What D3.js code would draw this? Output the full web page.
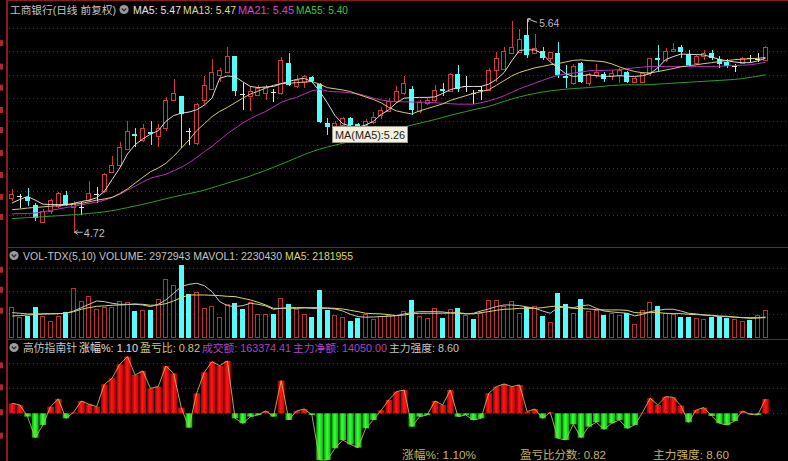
<!DOCTYPE html>
<html><head><meta charset="utf-8">
<script src="https://cdn.jsdelivr.net/npm/d3@7"></script>
<style>html,body{margin:0;padding:0;background:#000;overflow:hidden}text{font-family:"Liberation Sans","Noto Sans CJK SC",sans-serif}</style>
</head><body>
<svg id="c" width="788" height="461" style="display:block;background:#000"></svg>
<script>
// ---------- DATA ----------
const opens  = [4.87,4.88,4.874,4.843,4.77,4.814,4.836,4.883,4.831,4.833,4.864,4.887,4.90,4.983,5.014,5.083,5.146,5.12,5.154,5.136,5.17,5.293,5.31,5.157,5.107,5.293,5.34,5.40,5.411,5.48,5.319,5.307,5.314,5.321,5.326,5.321,5.45,5.35,5.371,5.389,5.361,5.193,5.171,5.186,5.214,5.19,5.186,5.197,5.229,5.243,5.289,5.321,5.34,5.243,5.279,5.29,5.34,5.331,5.403,5.35,5.321,5.336,5.336,5.421,5.426,5.493,5.497,5.571,5.493,5.503,5.471,5.493,5.393,5.364,5.45,5.364,5.40,5.403,5.393,5.40,5.411,5.367,5.369,5.407,5.474,5.464,5.50,5.521,5.489,5.45,5.479,5.493,5.467,5.453,5.436,5.45,5.471,5.467,5.464];
const highs  = [4.91,4.89,4.914,4.85,4.825,4.866,4.895,4.903,4.86,4.854,4.943,4.92,4.977,5.05,5.11,5.20,5.17,5.19,5.20,5.19,5.303,5.38,5.31,5.17,5.279,5.396,5.469,5.429,5.519,5.48,5.364,5.35,5.357,5.357,5.34,5.476,5.493,5.40,5.40,5.393,5.364,5.214,5.20,5.22,5.22,5.195,5.21,5.24,5.26,5.30,5.35,5.393,5.354,5.293,5.30,5.357,5.364,5.407,5.443,5.393,5.336,5.35,5.431,5.497,5.519,5.629,5.597,5.64,5.576,5.519,5.50,5.54,5.443,5.446,5.457,5.407,5.446,5.414,5.421,5.429,5.417,5.39,5.41,5.474,5.529,5.514,5.536,5.526,5.507,5.486,5.507,5.507,5.479,5.467,5.446,5.475,5.483,5.493,5.524];
const lows   = [4.86,4.83,4.836,4.774,4.765,4.804,4.83,4.836,4.72,4.80,4.857,4.85,4.893,4.98,5.007,5.08,5.09,5.113,5.10,5.09,5.16,5.286,5.086,5.10,5.10,5.271,5.336,5.371,5.407,5.307,5.25,5.243,5.307,5.293,5.283,5.314,5.35,5.343,5.343,5.364,5.193,5.143,5.15,5.18,5.175,5.16,5.17,5.19,5.21,5.24,5.28,5.314,5.229,5.236,5.27,5.283,5.307,5.329,5.326,5.326,5.274,5.293,5.331,5.371,5.421,5.489,5.493,5.471,5.489,5.464,5.46,5.386,5.343,5.357,5.364,5.354,5.386,5.371,5.379,5.364,5.364,5.365,5.365,5.393,5.414,5.457,5.497,5.471,5.44,5.443,5.464,5.464,5.429,5.429,5.414,5.447,5.454,5.457,5.461];
const closes = [4.89,4.88,4.857,4.786,4.815,4.864,4.893,4.843,4.85,4.833,4.893,4.887,4.974,5.014,5.09,5.16,5.136,5.17,5.146,5.17,5.293,5.32,5.23,5.157,5.274,5.357,5.411,5.421,5.479,5.329,5.319,5.331,5.343,5.346,5.326,5.464,5.357,5.379,5.393,5.374,5.197,5.174,5.193,5.214,5.186,5.175,5.203,5.221,5.25,5.289,5.331,5.364,5.25,5.283,5.293,5.336,5.331,5.403,5.34,5.35,5.321,5.336,5.421,5.471,5.50,5.521,5.554,5.486,5.514,5.471,5.497,5.40,5.386,5.436,5.371,5.403,5.414,5.383,5.407,5.421,5.371,5.386,5.407,5.471,5.464,5.50,5.511,5.497,5.443,5.479,5.493,5.471,5.446,5.436,5.436,5.471,5.471,5.467,5.521];

const ma5  = [4.85,4.865,4.878,4.862,4.845,4.843,4.843,4.843,4.848,4.856,4.862,4.872,4.9,4.95,5.0,5.06,5.1,5.125,5.145,5.16,5.2,5.225,5.235,5.24,5.25,5.27,5.3,5.385,5.395,5.392,5.37,5.35,5.345,5.348,5.35,5.362,5.372,5.38,5.385,5.37,5.33,5.28,5.225,5.19,5.18,5.175,5.185,5.2,5.23,5.25,5.28,5.3,5.302,5.303,5.303,5.305,5.32,5.336,5.345,5.35,5.35,5.35,5.36,5.38,5.41,5.46,5.505,5.507,5.507,5.49,5.455,5.43,5.405,5.393,5.396,5.4,5.396,5.393,5.394,5.396,5.394,5.393,5.396,5.405,5.43,5.465,5.478,5.489,5.488,5.487,5.485,5.476,5.466,5.46,5.455,5.452,5.452,5.46,5.471];
const ma13 = [4.821,4.824,4.828,4.831,4.833,4.836,4.838,4.841,4.844,4.848,4.855,4.862,4.867,4.874,4.89,4.91,4.935,4.96,4.984,5.0,5.02,5.05,5.085,5.12,5.16,5.19,5.22,5.243,5.26,5.28,5.3,5.317,5.33,5.343,5.355,5.362,5.364,5.366,5.369,5.371,5.36,5.345,5.34,5.335,5.328,5.316,5.305,5.294,5.28,5.26,5.245,5.238,5.232,5.245,5.255,5.265,5.275,5.29,5.3,5.31,5.32,5.328,5.336,5.355,5.375,5.395,5.41,5.42,5.43,5.436,5.443,5.448,5.455,5.462,5.464,5.461,5.459,5.456,5.447,5.434,5.423,5.414,5.409,5.408,5.414,5.42,5.427,5.434,5.439,5.443,5.448,5.452,5.457,5.461,5.465,5.467,5.469,5.471,5.474];
const ma21 = [4.803,4.804,4.805,4.807,4.812,4.818,4.824,4.83,4.836,4.842,4.848,4.854,4.862,4.873,4.887,4.905,4.922,4.94,4.956,4.965,4.973,4.988,5.003,5.022,5.045,5.07,5.093,5.12,5.147,5.17,5.193,5.212,5.228,5.243,5.262,5.282,5.294,5.303,5.318,5.331,5.338,5.33,5.327,5.326,5.322,5.318,5.31,5.3,5.292,5.287,5.285,5.284,5.283,5.283,5.282,5.28,5.278,5.276,5.274,5.274,5.274,5.28,5.288,5.298,5.31,5.325,5.34,5.352,5.364,5.376,5.388,5.398,5.403,5.407,5.412,5.417,5.418,5.419,5.42,5.422,5.426,5.43,5.433,5.436,5.436,5.436,5.436,5.436,5.436,5.436,5.436,5.436,5.437,5.438,5.44,5.441,5.443,5.448,5.454];
const ma55 = [4.783,4.785,4.787,4.789,4.791,4.793,4.795,4.797,4.8,4.802,4.805,4.808,4.812,4.817,4.823,4.83,4.837,4.844,4.852,4.86,4.868,4.876,4.883,4.89,4.897,4.905,4.915,4.925,4.935,4.945,4.955,4.966,4.978,4.99,5.003,5.016,5.03,5.044,5.058,5.07,5.081,5.09,5.098,5.106,5.115,5.124,5.134,5.143,5.152,5.16,5.168,5.176,5.184,5.192,5.2,5.208,5.217,5.226,5.234,5.242,5.25,5.257,5.264,5.275,5.286,5.296,5.305,5.313,5.32,5.326,5.331,5.335,5.338,5.341,5.343,5.345,5.348,5.351,5.354,5.356,5.357,5.357,5.357,5.358,5.36,5.362,5.364,5.366,5.368,5.37,5.372,5.374,5.376,5.378,5.38,5.384,5.389,5.394,5.4];

// volume in millions of shares; 1 = red (up) bar, 0 = cyan (down) bar
const volumes = [3.26,2.28,2.38,3.33,2.38,1.82,2.35,2.80,5.25,3.92,4.45,3.08,3.33,3.33,3.92,3.78,2.91,2.98,2.98,4.10,6.20,5.60,7.70,4.62,4.83,3.15,3.43,2.28,3.57,3.68,3.05,3.78,2.52,2.52,2.56,4.27,3.57,3.05,2.52,2.28,5.08,2.98,2.45,2.28,1.86,2.10,2.56,2.03,2.35,2.45,2.40,2.91,4.03,2.38,2.10,3.22,2.17,3.08,3.22,2.45,2.03,2.63,4.03,4.03,3.40,3.92,2.63,3.29,3.40,2.35,1.75,4.73,3.57,2.70,4.13,2.87,2.98,2.45,2.70,2.45,2.63,1.47,2.98,3.85,3.40,2.63,2.52,2.28,2.28,2.17,2.03,2.28,2.28,2.17,2.03,1.82,1.93,2.45,2.97];
const volUp = [1,1,0,0,1,1,1,0,1,1,1,1,1,1,1,1,0,1,0,1,1,1,0,0,1,1,1,1,1,0,0,1,1,1,0,1,0,1,1,0,0,0,1,1,0,0,1,1,1,1,1,1,0,1,1,1,0,1,0,1,0,1,1,1,1,1,1,0,1,0,1,0,0,1,0,1,1,0,1,1,0,1,1,1,0,1,1,0,0,1,1,0,0,0,1,1,0,1,1];
const mavol1 = [2.70,2.63,2.56,2.56,2.56,2.59,2.59,2.63,2.87,3.22,3.57,3.92,3.85,3.68,3.57,3.57,3.57,3.50,3.33,3.57,4.03,4.73,5.43,5.67,5.78,5.53,4.90,3.85,3.43,3.33,3.43,3.68,3.57,3.40,3.05,3.15,3.22,3.22,3.22,3.15,3.15,3.15,3.08,2.87,2.52,2.28,2.21,2.24,2.28,2.31,2.38,2.56,2.70,2.80,2.80,2.80,2.77,2.66,2.63,2.56,2.63,2.87,3.08,3.33,3.50,3.50,3.43,3.29,3.15,2.87,2.63,3.22,3.29,3.22,3.40,3.50,3.15,2.87,2.77,2.70,2.63,2.35,2.52,2.80,2.94,3.05,3.05,2.87,2.63,2.56,2.45,2.38,2.28,2.28,2.21,2.17,2.17,2.17,2.23];
const mavol2 = [2.35,2.38,2.45,2.49,2.56,2.56,2.59,2.63,2.80,3.05,3.22,3.36,3.40,3.47,3.50,3.54,3.61,3.57,3.47,3.50,3.64,3.92,4.27,4.55,4.55,4.55,4.52,4.48,4.41,4.38,4.20,4.03,3.78,3.50,3.15,3.15,3.15,3.15,3.19,3.22,3.22,3.19,3.15,3.08,2.94,2.80,2.63,2.59,2.56,2.49,2.38,2.45,2.56,2.63,2.63,2.63,2.63,2.66,2.70,2.59,2.56,2.70,2.80,2.94,3.05,3.08,3.15,3.15,3.15,3.22,3.33,3.40,3.26,3.15,3.12,3.08,3.01,2.98,2.98,2.98,2.94,2.70,2.66,2.70,2.70,2.63,2.59,2.59,2.52,2.49,2.45,2.42,2.35,2.31,2.24,2.17,2.10,2.13,2.18];

// 高仿指南针 histogram values
const zhinan = [30,25,-10,-73,-35,20,43,-15,3,37,27,20,87,105,147,170,115,127,75,80,142,120,17,-43,60,123,155,143,157,-15,-30,-10,-5,7,-10,98,-20,7,13,-5,-140,-140,-105,-80,-93,-103,-45,-20,9,40,65,70,-40,-10,-5,37,25,70,-10,-5,-20,-15,60,80,88,80,85,5,13,-15,3,-75,-80,-33,-73,-40,-27,-48,-30,-20,-45,-35,2,45,25,50,48,23,-27,10,17,-8,-30,-35,-23,7,-3,-5,43];

const priceTicks = [4.8,4.9,5.0,5.1,5.2,5.3,5.4,5.5,5.6];
const priceMarks = [5.536,5.435,5.345,5.249,5.163,5.064,4.97,4.876,4.79];
const volTicks = [2.55,5.0,7.4];
const volMarks = [7.2,5.1,2.9];
const indTicks = [75,150];
const indMarks = [144,78,3,-67];

const mainHeader = ["工商银行(日线 前复权)","MA5: 5.47","MA13: 5.47","MA21: 5.45","MA55: 5.40"];
const volHeader = ["VOL-TDX(5,10) VOLUME: 2972943 MAVOL1: 2230430","MA5: 2181955"];
const indHeader = ["高仿指南针","涨幅%: 1.10","盈亏比: 0.82","成交额: 163374.41","主力净额: 14050.00","主力强度: 8.60"];
const indFooter = ["涨幅%:  1.10%","盈亏比分数:  0.82","主力强度:  8.60"];
const tooltipText = "MA(MA5):5.26";
const lowLabel = {i:8, v:4.72, t:"4.72"};
const highLabel = {i:67, v:5.64, t:"5.64"};

// ---------- LAYOUT / STYLE ----------
const mainHeaderStyle = [{x:10,w:106,c:"#c4c4c4"},{x:133,w:48,c:"#e6e6e6"},{x:183,w:53,c:"#e4dc82"},{x:238,w:56,c:"#d844d8"},{x:296,w:52,c:"#3cc83c"}];
const volHeaderStyle = [{x:23,w:259,c:"#c4c4c4"},{x:285,w:68,c:"#dcdc5a"}];
const indHeaderStyle = [{x:23,w:54,c:"#c4c4c4"},{x:79,w:59,c:"#e0e0e0"},{x:140,w:60,c:"#d2c878"},{x:202,w:89,c:"#b044c8"},{x:293,w:94,c:"#b044c8"},{x:389,w:70,c:"#c4c4c4"}];
const indFooterStyle = [{x:402,w:74},{x:520,w:86},{x:653,w:76}];

// ---------- DRAW ----------
const W = 788, H = 461;
const svg = d3.select("#c");
const idx = d3.range(closes.length);
const x = d3.scaleBand().domain(idx).range([7.15, 770.45]).padding(0.3);
const cx = i => x(i) + x.bandwidth()/2;
const bw = x.bandwidth();

const y = d3.scaleLinear().domain([4.8, 5.6]).range([214.6, 28.2]);
const yv = d3.scaleLinear().domain([0, 7.7]).range([338.3, 265]);
const yi = d3.scaleLinear().domain([0, 150]).range([413.3, 363.3]);

const RED = "#d03a3a", CYAN = "#54fcfc", FRAME = "#8a1c1c", GRID = "#7a1a1a";

const defs = svg.append("defs");
function grad(id, a, b, c){
  const g = defs.append("linearGradient").attr("id", id).attr("x1",0).attr("x2",1).attr("y1",0).attr("y2",0);
  g.append("stop").attr("offset","0%").attr("stop-color",a);
  g.append("stop").attr("offset","45%").attr("stop-color",b);
  g.append("stop").attr("offset","100%").attr("stop-color",c);
}
grad("gRed","#9a0000","#ff1818","#c80000");
grad("gGreen","#00a800","#3cff3c","#00c000");

// grids
const gridG = svg.append("g").attr("stroke", GRID).attr("stroke-dasharray","1,3").attr("shape-rendering","crispEdges");
priceTicks.forEach(p => gridG.append("line").attr("x1",9).attr("x2",W).attr("y1",Math.round(y(p))+0.5).attr("y2",Math.round(y(p))+0.5));
volTicks.forEach(v => gridG.append("line").attr("x1",9).attr("x2",W).attr("y1",Math.round(yv(v))+0.5).attr("y2",Math.round(yv(v))+0.5));
indTicks.concat([0]).forEach(v => gridG.append("line").attr("x1",9).attr("x2",W).attr("y1",Math.round(yi(v))+0.5).attr("y2",Math.round(yi(v))+0.5));

// frame
const fr = svg.append("g").attr("stroke", FRAME).attr("stroke-width",1.5).attr("shape-rendering","crispEdges");
fr.append("line").attr("x1",7).attr("x2",7).attr("y1",0).attr("y2",H);
fr.append("line").attr("x1",7).attr("x2",W).attr("y1",0.5).attr("y2",0.5);
fr.append("line").attr("x1",7).attr("x2",W).attr("y1",247.5).attr("y2",247.5);
fr.append("line").attr("x1",7).attr("x2",W).attr("y1",339.5).attr("y2",339.5);

// left marks (clipped axis labels)
const mk = svg.append("g").attr("fill","#b02828");
priceMarks.forEach(p => mk.append("rect").attr("x",0).attr("y",y(p)-3).attr("width",3).attr("height",6));
volMarks.forEach(v => mk.append("rect").attr("x",0).attr("y",yv(v)-3).attr("width",3).attr("height",6));
indMarks.forEach(v => mk.append("rect").attr("x",0).attr("y",yi(v)-3).attr("width",3).attr("height",6));

// ---- candles
const cg = svg.append("g").attr("shape-rendering","crispEdges");
idx.forEach(i => {
  const o = opens[i], c = closes[i], h = highs[i], l = lows[i];
  const xc = Math.round(cx(i)) + 0.5;
  const x0 = Math.round(cx(i) - bw/2) + 0.5;
  const w = Math.round(bw) - 1;
  if (c > o) {
    const top = Math.round(y(c)) + 0.5, bot = Math.round(y(o)) + 0.5;
    cg.append("line").attr("x1",xc).attr("x2",xc).attr("y1",y(h)).attr("y2",top).attr("stroke",RED);
    cg.append("line").attr("x1",xc).attr("x2",xc).attr("y1",bot).attr("y2",y(l)).attr("stroke",RED);
    cg.append("rect").attr("x",x0).attr("y",top).attr("width",w).attr("height",Math.max(1,bot-top)).attr("fill","#000").attr("stroke",RED);
  } else if (c < o) {
    cg.append("line").attr("x1",xc).attr("x2",xc).attr("y1",y(h)).attr("y2",y(l)).attr("stroke",CYAN);
    const top = y(o), bot = y(c);
    cg.append("rect").attr("x",x0-0.5).attr("y",top).attr("width",w+1).attr("height",Math.max(1.5,bot-top)).attr("fill",CYAN);
  } else {
    cg.append("line").attr("x1",xc).attr("x2",xc).attr("y1",y(h)).attr("y2",y(l)).attr("stroke","#e8e8e8");
    cg.append("line").attr("x1",x0-0.5).attr("x2",x0+w+0.5).attr("y1",Math.round(y(c))+0.5).attr("y2",Math.round(y(c))+0.5).attr("stroke","#e8e8e8");
  }
});

// MA lines
const ml = d3.line().x((d,i)=>cx(i)).y(d=>y(d));
[[ma55,"#2e9e2e"],[ma21,"#b830b8"],[ma13,"#d6cc6e"],[ma5,"#dcdcdc"]].forEach(([arr,col]) =>
  svg.append("path").attr("d", ml(arr)).attr("fill","none").attr("stroke",col).attr("stroke-width",1));

// fit a text into a width: shrink font until its natural length fits, then pin the length
function fit(sel, size, w){
  sel.attr("font-size", size);
  const len = sel.node().getComputedTextLength();
  if (len > w) sel.attr("font-size", (size * w / len).toFixed(2));
  sel.attr("textLength", w).attr("lengthAdjust","spacingAndGlyphs");
}

// high / low annotations
const ann = svg.append("g").attr("stroke","#bdbdbd").attr("fill","none").attr("stroke-width",1);
{
  const lx = cx(lowLabel.i), ly = y(lowLabel.v) - 1;
  ann.append("path").attr("d",`M${lx+9},${ly} L${lx+1},${ly} M${lx+1},${ly} l3,-2 M${lx+1},${ly} l3,2`);
  fit(svg.append("text").attr("x",lx+10).attr("y",ly+4.5).attr("fill","#bdbdbd").text(lowLabel.t), 11, 21);
  const hx = cx(highLabel.i), hy = y(highLabel.v);
  ann.append("path").attr("d",`M${hx+0.5},${hy} L${hx+10},${hy+3.5} M${hx+0.5},${hy} l1,3 M${hx+0.5},${hy} l3,-0.5`);
  fit(svg.append("text").attr("x",hx+12).attr("y",hy+8).attr("fill","#bdbdbd").text(highLabel.t), 11, 20);
}

// tooltip
{
  const tg = svg.append("g");
  tg.append("rect").attr("x",332.5).attr("y",126.5).attr("width",75).attr("height",16).attr("fill","#f4f0dc").attr("stroke","#9a9a8a");
  fit(tg.append("text").attr("x",335).attr("y",139).attr("fill","#202020").text(tooltipText), 12, 70);
}

// ---- volume
const vg = svg.append("g").attr("shape-rendering","crispEdges");
idx.forEach(i => {
  const x0 = Math.round(cx(i) - bw/2) + 0.5;
  const w = Math.round(bw) - 1;
  const top = Math.round(yv(volumes[i])) + 0.5, bot = Math.round(yv(0)) - 0.5;
  if (volUp[i]) vg.append("rect").attr("x",x0).attr("y",top).attr("width",w).attr("height",bot-top).attr("fill","#000").attr("stroke","#b83434");
  else vg.append("rect").attr("x",x0-0.5).attr("y",top-0.5).attr("width",w+1).attr("height",bot-top+1).attr("fill",CYAN);
});
const vl = d3.line().x((d,i)=>cx(i)).y(d=>yv(d));
svg.append("path").attr("d",vl(mavol2)).attr("fill","none").attr("stroke","#dcdc50").attr("stroke-width",1);
svg.append("path").attr("d",vl(mavol1)).attr("fill","none").attr("stroke","#c8c8c8").attr("stroke-width",1);

// ---- indicator
const ig = svg.append("g");
const iw = 6.7;
idx.forEach(i => {
  const v = zhinan[i];
  const y0 = yi(0), y1 = yi(v);
  ig.append("rect").attr("x",cx(i)-iw/2).attr("width",iw)
    .attr("y",Math.min(y0,y1)).attr("height",Math.max(0.8,Math.abs(y1-y0)))
    .attr("fill", v >= 0 ? "url(#gRed)" : "url(#gGreen)");
});
svg.append("path").attr("d", d3.line().x((d,i)=>cx(i)).y(d=>yi(d))(zhinan)).attr("fill","none").attr("stroke","#c8b45a").attr("stroke-width",0.9);

// ---- headers
function icon(cx0, cy0){
  svg.append("circle").attr("cx",cx0).attr("cy",cy0).attr("r",4.6).attr("fill","#9c9c9c");
  svg.append("path").attr("d",`M${cx0-2.3},${cy0-1} L${cx0},${cy0+1.4} L${cx0+2.3},${cy0-1}`).attr("fill","none").attr("stroke","#2a2a2a").attr("stroke-width",1.3);
}
function row(list, style, yy, size){
  list.forEach((s,k) => fit(svg.append("text").attr("x",style[k].x).attr("y",yy).attr("fill",style[k].c).text(s), size, style[k].w));
}
row(mainHeader, mainHeaderStyle, 13.5, 12);
icon(124, 9.5);
icon(14, 255.5);
row(volHeader, volHeaderStyle, 259.5, 11.5);
icon(14, 347.5);
row(indHeader, indHeaderStyle, 352, 12);
row(indFooter, indFooterStyle.map(s => Object.assign({c:"#c8b45a"}, s)), 459, 12);
</script>
</body></html>
